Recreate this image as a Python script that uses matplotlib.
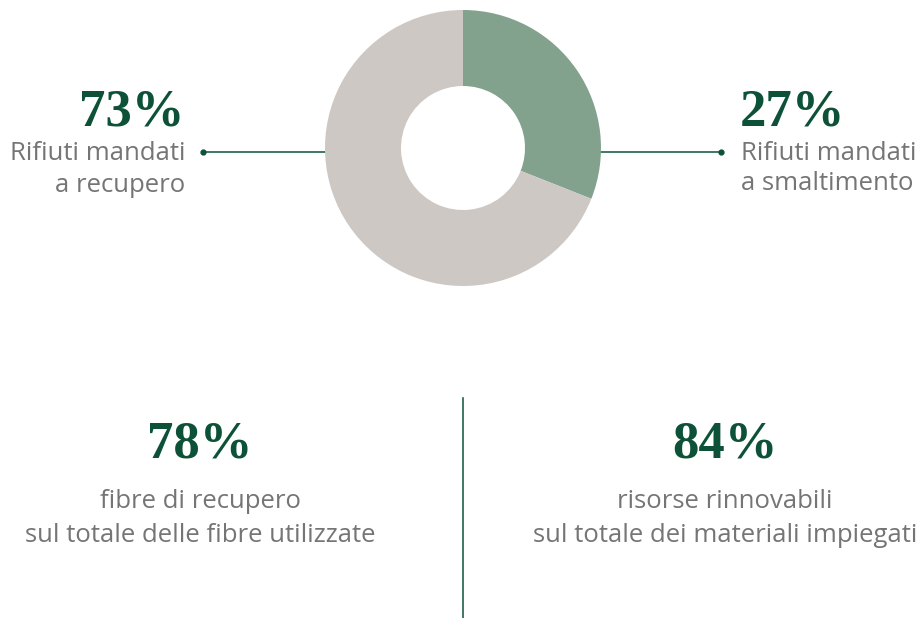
import matplotlib
matplotlib.use("Agg")
import matplotlib.pyplot as plt

# Data
donut_labels = ["Rifiuti mandati\na smaltimento", "Rifiuti mandati\na recupero"]
donut_values = [31, 69]   # slice sizes as drawn in the picture
donut_colors = ["#82a28e", "#cdc8c4"]
left_pct = "73%"
left_label = ["Rifiuti mandati", "a recupero"]
right_pct = "27%"
right_label = ["Rifiuti mandati", "a smaltimento"]
bottom_pcts = ["78%", "84%"]
bottom_labels = [["fibre di recupero", "sul totale delle fibre utilizzate"],
                 ["risorse rinnovabili", "sul totale dei materiali impiegati"]]

W, H = 919, 618
DARK = "#0d5238"
GREY = "#757575"
SERIF = ["Liberation Serif", "DejaVu Serif"]
SANS = ["Open Sans", "DejaVu Sans"]

fig = plt.figure(figsize=(W / 100, H / 100), dpi=100)
fig.patch.set_facecolor("white")

ax = fig.add_axes([0, 0, 1, 1])
ax.set_xlim(0, W)
ax.set_ylim(H, 0)
ax.axis("off")

cx, cy, R = 463, 148, 138
dax = fig.add_axes([(cx - R) / W, 1 - (cy + R) / H, 2 * R / W, 2 * R / H])
dax.pie(donut_values, colors=donut_colors, startangle=90, counterclock=False,
        radius=1, wedgeprops=dict(width=1 - 62 / 138, linewidth=0))
dax.set_xlim(-1, 1)
dax.set_ylim(-1, 1)
dax.set_aspect("equal")
dax.axis("off")

ly = 152
ax.plot([203, 326], [ly, ly], color=DARK, lw=1.1, zorder=1)
ax.plot([203], [ly], "o", color=DARK, ms=3.5)
ax.plot([599, 721], [ly, ly], color=DARK, lw=1.1, zorder=1)
ax.plot([721], [ly], "o", color=DARK, ms=3.5)

pct_fs = 38
lab_fs = 18.5
lab_kw = dict(fontsize=lab_fs, color=GREY, family=SANS, fontweight="normal",
              fontstretch="normal")
pct_kw = dict(fontsize=pct_fs, fontweight="bold", color=DARK, family=SERIF)

ax.text(185, 126, left_pct, ha="right", va="baseline", **pct_kw)
ax.text(185, 153, left_label[0], ha="right", va="center", **lab_kw)
ax.text(185, 185, left_label[1], ha="right", va="center", **lab_kw)

ax.text(740, 126, right_pct, ha="left", va="baseline", **pct_kw)
ax.text(741, 153, right_label[0], ha="left", va="center", **lab_kw)
ax.text(741, 184, right_label[1], ha="left", va="center", **lab_kw)

centers = [200, 725]
for c, p, labs in zip(centers, bottom_pcts, bottom_labels):
    ax.text(c, 457, p, ha="center", va="baseline", **pct_kw)
    ax.text(c, 502, labs[0], ha="center", va="center", **lab_kw)
    ax.text(c, 535, labs[1], ha="center", va="center", **lab_kw)

ax.plot([463, 463], [398, 618], color=DARK, lw=1.1)

fig.savefig("out.png", dpi=100, facecolor="white")
